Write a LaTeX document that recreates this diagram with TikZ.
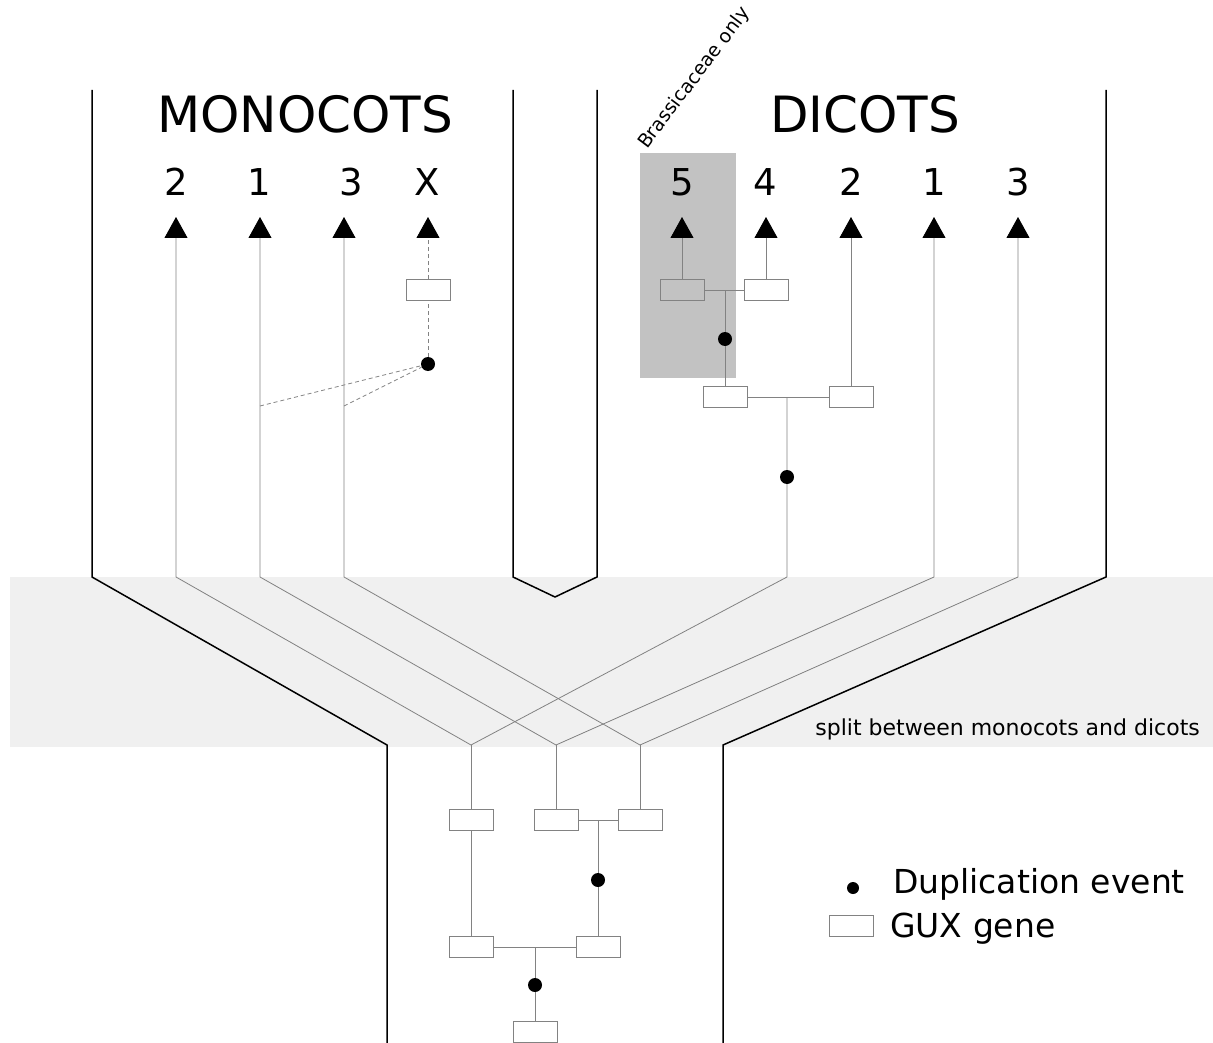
\documentclass[tikz,border=0pt]{standalone}
\usepackage{fontspec}
\setmainfont{DejaVu Sans}
\usetikzlibrary{arrows.meta}

\definecolor{bandgray}{RGB}{240,240,240}
\definecolor{hlgray}{RGB}{194,194,194}
\definecolor{linegray}{RGB}{130,130,130}

\tikzset{
  gene/.style={draw=linegray, fill=white, line width=0.8pt, minimum width=44pt, minimum height=21pt, inner sep=0pt},
  dup/.style={circle, fill=black, minimum size=14pt, inner sep=0pt},
  lineage/.style={draw=linegray, line width=0.8pt},
  lost/.style={lineage, dash pattern=on 4pt off 3pt},
  outline/.style={draw=black, line width=1.5pt},
  upwards/.style={-{Triangle[width=23pt,length=21pt,color=black]}},
  title/.style={anchor=base, inner sep=0pt, font=\fontsize{50}{60}\selectfont},
  digit/.style={anchor=base, inner sep=0pt, font=\fontsize{37}{44}\selectfont},
}

\begin{document}
\begin{tikzpicture}[x=1pt,y=1pt,yscale=-1]
\useasboundingbox (0,0) rectangle (1213,1043);

%Shape: split band
\fill[bandgray] (10,577) rectangle (1213,747);
%Shape: Brassicaceae box
\fill[hlgray] (640,153) rectangle (736,378);

%Straight Lines: outlines of the two groups
\draw[outline] (92,90) -- (92,577) -- (387,745) -- (387,1043);
\draw[outline] (513,90) -- (513,577) -- (555,597) -- (597,577) -- (597,90);
\draw[outline] (1106,90) -- (1106,577) -- (723,745) -- (723,1043);

% ancestral genes
\node[gene] (b0) at (535,1032) {};
\node[dup] (d0) at (535,985) {};
\coordinate (j1) at (535,947);
\node[gene] (b1) at (471,947) {};
\node[gene] (b2) at (598,947) {};
\node[dup] (d1) at (598,880) {};
\coordinate (j2) at (598,820);
\node[gene] (b3) at (471,820) {};
\node[gene] (b4) at (556,820) {};
\node[gene] (b5) at (640,820) {};
\coordinate (s2) at (471,745);
\coordinate (s1) at (556,745);
\coordinate (s3) at (640,745);

\draw[lineage] (b0) -- (d0) -- (j1);
\draw[lineage] (b1) -- (b2);
\draw[lineage] (b2) -- (d1) -- (j2);
\draw[lineage] (b4) -- (b5);
\draw[lineage] (b1) -- (b3);
\draw[lineage] (b3) -- (s2);
\draw[lineage] (b4) -- (s1);
\draw[lineage] (b5) -- (s3);

% monocots
\coordinate (m2top) at (176,217);
\coordinate (m1top) at (260,217);
\coordinate (m3top) at (344,217);
\coordinate (mxtop) at (428,217);
\coordinate (m2bend) at (176,577);
\coordinate (m1bend) at (260,577);
\coordinate (m3bend) at (344,577);
\coordinate (m1lost) at (260,406);
\coordinate (m3lost) at (344,406);
\node[dup] (dx) at (428,364) {};
\node[gene] (gx) at (428,290) {};

\draw[lineage,upwards] (s2) -- (m2bend) -- (m2top);
\draw[lineage,upwards] (s1) -- (m1bend) -- (m1top);
\draw[lineage,upwards] (s3) -- (m3bend) -- (m3top);
\draw[lost] (m1lost) -- (dx);
\draw[lost] (m3lost) -- (dx);
\draw[lost] (dx) -- (gx);
\draw[lost,upwards] (gx) -- (mxtop);

% dicots
\coordinate (d5top) at (682,217);
\coordinate (d4top) at (766,217);
\coordinate (d2top) at (851,217);
\coordinate (d1top) at (934,217);
\coordinate (d3top) at (1018,217);
\coordinate (d2bend) at (787,577);
\coordinate (d1bend) at (934,577);
\coordinate (d3bend) at (1018,577);
\node[gene, fill=none] (gd5) at (682,290) {};
\node[gene] (gd4) at (766,290) {};
\coordinate (jd1) at (725,290);
\node[dup] (dd1) at (725,339) {};
\node[gene] (gd45) at (725,397) {};
\node[gene] (gd2) at (851,397) {};
\coordinate (jd2) at (787,397);
\node[dup] (dd2) at (787,477) {};

\draw[lineage,upwards] (gd5) -- (d5top);
\draw[lineage,upwards] (gd4) -- (d4top);
\draw[lineage,upwards] (gd2) -- (d2top);
\draw[lineage] (gd5) -- (gd4);
\draw[lineage] (jd1) -- (dd1) -- (gd45);
\draw[lineage] (gd45) -- (gd2);
\draw[lineage] (jd2) -- (dd2) -- (d2bend) -- (s2);
\draw[lineage,upwards] (s1) -- (d1bend) -- (d1top);
\draw[lineage,upwards] (s3) -- (d3bend) -- (d3top);

% Text Node
\node[title] (tmono) at (305,133) {MONOCOTS};
\node[title] (tdi) at (865,133) {DICOTS};
% Text Node
\node[digit] (lm2) at (176,196) {2};
\node[digit] (lm1) at (259,196) {1};
\node[digit] (lm3) at (351,196) {3};
\node[digit] (lmx) at (427,196) {X};
\node[digit] (ld5) at (682,196) {5};
\node[digit] (ld4) at (765,196) {4};
\node[digit] (ld2) at (851,196) {2};
\node[digit] (ld1) at (934,196) {1};
\node[digit] (ld3) at (1018,196) {3};
% Text Node
\node[anchor=base west, inner sep=0pt, rotate=53, font=\fontsize{19}{22}\selectfont] (tbras) at (647,150) {Brassicaceae only};
\node[anchor=base east, inner sep=0pt, font=\fontsize{22}{26}\selectfont] (tsplit) at (1200,735) {split between monocots and dicots};

% legend
\node[dup, minimum size=12pt] (kdup) at (853,888) {};
\node[gene] (kgene) at (851,926) {};
\node[anchor=base west, inner sep=0pt, font=\fontsize{33}{40}\selectfont] (tdup) at (893,893) {Duplication event};
\node[anchor=base west, inner sep=0pt, font=\fontsize{33}{40}\selectfont] (tgene) at (890,937) {GUX gene};
\end{tikzpicture}
\end{document}
